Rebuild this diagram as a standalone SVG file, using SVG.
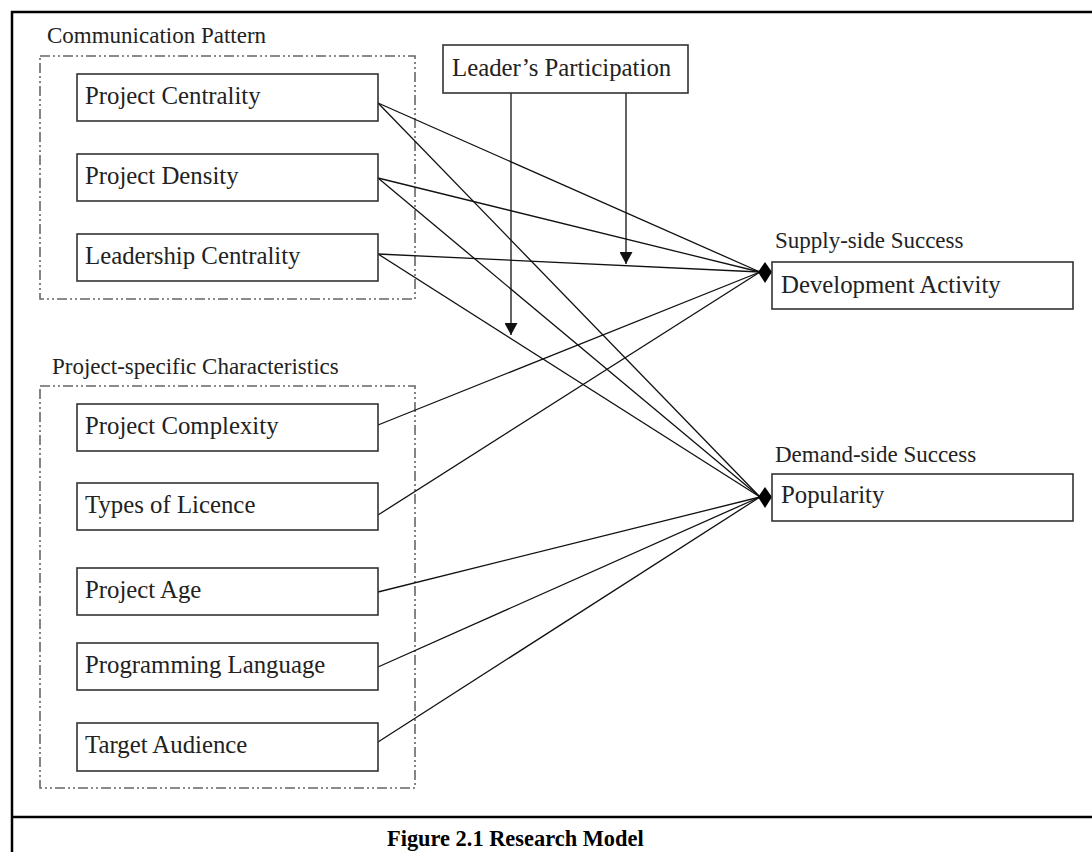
<svg xmlns="http://www.w3.org/2000/svg" width="1092" height="852" viewBox="0 0 1092 852">
<defs>
<marker id="arr" viewBox="0 0 12 13" refX="12" refY="6.5" markerWidth="12" markerHeight="13" markerUnits="userSpaceOnUse" orient="auto">
<path d="M0,0 L12,6.5 L0,13 Z" fill="#111"/>
</marker>
</defs>
<style>
.frame{fill:none;stroke:#000;stroke-width:2.5}
.group{fill:none;stroke:#666;stroke-width:1.6;stroke-dasharray:10 3 2 3 2 3}
.box{fill:#fff;stroke:#333;stroke-width:1.6}
.t{font-family:"Liberation Serif","Times New Roman",serif;font-size:24.8px;fill:#222}
.lbl{font-family:"Liberation Serif","Times New Roman",serif;font-size:23px;fill:#222}
.cap{font-family:"Liberation Serif","Times New Roman",serif;font-size:22.4px;font-weight:bold;fill:#000}
.c{stroke:#111;stroke-width:1.3;fill:none}
</style>
<rect width="1092" height="852" fill="#fff"/>
<g id="frame">
<line class="frame" x1="11" y1="12" x2="1092" y2="12"/>
<line class="frame" x1="12" y1="11" x2="12" y2="852"/>
<line class="frame" x1="11" y1="817" x2="1092" y2="817"/>
<text class="cap" x="387" y="846">Figure 2.1 Research Model</text>
</g>
<g id="group-communication">
<rect class="group" x="40" y="56" width="375" height="243"/>
<text class="lbl" x="47" y="43">Communication Pattern</text>
</g>
<g id="group-project">
<rect class="group" x="40" y="386" width="375" height="402"/>
<text class="lbl" x="52" y="374">Project-specific Characteristics</text>
</g>
<g id="connectors">
<line class="c" x1="378" y1="103" x2="760" y2="272"/>
<line class="c" x1="378" y1="103" x2="760" y2="497"/>
<line class="c" x1="378" y1="178" x2="760" y2="272"/>
<line class="c" x1="378" y1="178" x2="760" y2="497"/>
<line class="c" x1="378" y1="254" x2="760" y2="272"/>
<line class="c" x1="378" y1="254" x2="760" y2="497"/>
<line class="c" x1="378" y1="425" x2="760" y2="272"/>
<line class="c" x1="378" y1="515" x2="760" y2="272"/>
<line class="c" x1="378" y1="592" x2="760" y2="497"/>
<line class="c" x1="378" y1="667" x2="760" y2="497"/>
<line class="c" x1="378" y1="742" x2="760" y2="497"/>
<line class="c" x1="511" y1="93" x2="511" y2="335" marker-end="url(#arr)"/>
<line class="c" x1="626" y1="93" x2="626" y2="264" marker-end="url(#arr)"/>
<polygon points="758,272 765,262 772,272 765,283" fill="#000"/>
<polygon points="758,497 765,487 772,497 765,508" fill="#000"/>
</g>
<g id="n-project-centrality"><rect class="box" x="77" y="74" width="301" height="47"/><text class="t" x="85" y="104">Project Centrality</text></g>
<g id="n-project-density"><rect class="box" x="77" y="154" width="301" height="47"/><text class="t" x="85" y="184">Project Density</text></g>
<g id="n-leadership-centrality"><rect class="box" x="77" y="234" width="301" height="47"/><text class="t" x="85" y="264">Leadership Centrality</text></g>
<g id="n-project-complexity"><rect class="box" x="77" y="404" width="301" height="47"/><text class="t" x="85" y="434">Project Complexity</text></g>
<g id="n-types-of-licence"><rect class="box" x="77" y="483" width="301" height="47"/><text class="t" x="85" y="513">Types of Licence</text></g>
<g id="n-project-age"><rect class="box" x="77" y="568" width="301" height="47"/><text class="t" x="85" y="598">Project Age</text></g>
<g id="n-programming-language"><rect class="box" x="77" y="643" width="301" height="47"/><text class="t" x="85" y="673">Programming Language</text></g>
<g id="n-target-audience"><rect class="box" x="77" y="723" width="301" height="48"/><text class="t" x="85" y="753">Target Audience</text></g>
<g id="n-leaders-participation"><rect class="box" x="443" y="45" width="245" height="48"/><text class="t" x="452" y="76">Leader’s Participation</text></g>
<g id="n-development-activity">
<text class="lbl" x="775" y="248">Supply-side Success</text>
<rect class="box" x="772" y="262" width="301" height="47"/><text class="t" x="781" y="293">Development Activity</text></g>
<g id="n-popularity">
<text class="lbl" x="775" y="462">Demand-side Success</text>
<rect class="box" x="772" y="474" width="301" height="47"/><text class="t" x="781" y="503">Popularity</text></g>
</svg>
